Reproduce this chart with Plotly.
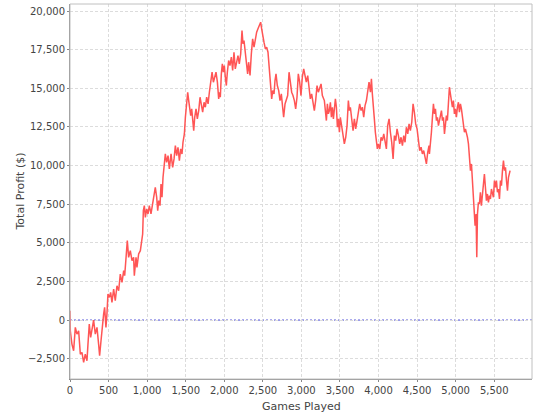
import plotly.graph_objects as go

games = [
    0, 4, 25, 47, 69, 90, 112, 134, 155, 177, 198, 220, 233, 250, 268, 285, 306, 328, 350, 371,
    384, 402, 415, 436, 449, 466, 479, 492, 510, 527, 544, 566, 587, 609, 631, 652, 674, 696, 709,
    730, 743, 760, 782, 804, 825, 834, 856, 868, 890, 912, 925, 942,
    951, 964, 977, 994, 1011, 1029, 1050, 1072, 1094, 1106, 1124, 1137, 1150, 1167, 1180, 1193,
    1206, 1219, 1236, 1253, 1271, 1288, 1310, 1331, 1349, 1366, 1383, 1400, 1418, 1435, 1452,
    1465, 1483, 1496, 1513, 1526, 1539, 1552, 1565, 1578, 1591, 1604, 1617, 1634, 1651, 1669,
    1686, 1703, 1720, 1738, 1755, 1772, 1790, 1807, 1824, 1842, 1859, 1876, 1893, 1911, 1928,
    1936, 1949, 1962, 1975, 1988, 2001, 2014, 2027, 2040, 2057, 2074, 2092, 2109, 2126, 2143,
    2161, 2178, 2195, 2213, 2230, 2243, 2256, 2273, 2290, 2303, 2316, 2334, 2351, 2368, 2386,
    2403, 2420, 2437, 2455, 2472, 2485, 2498, 2515, 2533, 2550, 2567, 2584, 2602, 2615, 2628,
    2645, 2658, 2671, 2688, 2706, 2723, 2740, 2757, 2770, 2788, 2805, 2822, 2840, 2857, 2874,
    2891, 2909, 2926, 2943, 2960, 2978, 2995, 3012, 3030, 3047, 3064, 3082, 3099, 3116, 3133,
    3151, 3168, 3185, 3203, 3220, 3237, 3255, 3272, 3289,
    3298, 3311, 3324, 3337, 3350, 3363, 3376, 3389, 3402, 3415, 3428, 3441, 3454, 3467, 3480,
    3493, 3505, 3523, 3540, 3557, 3575, 3592, 3609, 3622, 3635, 3653, 3670, 3687, 3704, 3722,
    3739, 3756, 3774, 3791, 3808, 3825, 3843, 3860, 3877, 3895, 3908, 3920, 3933, 3946, 3959,
    3972, 3985, 3998, 4016, 4033, 4050, 4068, 4085, 4102, 4119, 4137, 4154, 4171, 4189, 4206,
    4223, 4240, 4258, 4275, 4292, 4310, 4327, 4344, 4361, 4379, 4396, 4413, 4431, 4448, 4465,
    4482, 4500, 4517, 4534, 4552, 4569, 4586, 4603, 4621, 4638, 4655,
    4660, 4673, 4686, 4699, 4712, 4725, 4738, 4751, 4764, 4777, 4790, 4803, 4816, 4829, 4842,
    4855, 4868, 4880, 4893, 4906, 4919, 4932, 4945, 4958, 4971, 4984, 4997, 5010, 5023, 5036,
    5049, 5062, 5075, 5088, 5101, 5114, 5127, 5140, 5153, 5166, 5179, 5192, 5205, 5218, 5226,
    5239, 5252, 5265, 5274, 5283, 5295, 5308, 5321, 5334, 5347, 5360, 5373, 5386, 5399, 5412,
    5425, 5438, 5451, 5464, 5477, 5490, 5503, 5516, 5529, 5542, 5555, 5568, 5581, 5594, 5607,
    5620, 5633, 5646, 5659, 5672, 5685, 5698, 5706,
]

profit = [
    600, -693, -1556, -1988, -477, -909, -693, -2204, -2096, -2744, -2204, -2636, -1556, -261,
    -1125, -477, 0, -909, -477, -1556, -2312, -1340, -477, 387, 819, -477, 387, 1682, 1466, 1790,
    1142, 2006, 1250, 2222, 1898, 2978, 2438, 3194, 2870, 4813, 5137, 4057, 4489, 3841, 4057,
    2870, 4057, 3409, 4273, 4489, 4921, 5568,
    7080, 7403, 6648, 7188, 6864, 7403, 6864, 7511, 8375, 8591, 7943, 7080, 7727, 7403, 8807,
    7943, 9239, 10102, 10750, 10210, 10642, 9779, 10750, 9886, 10426, 11290, 10642, 11182,
    10318, 11074, 10750, 11506, 12045, 13125, 13881, 14744, 14204, 13665, 13233, 13665, 12909,
    12261, 13125, 13665, 13017, 13557, 14420, 13989, 13449, 14096, 13773, 14420, 13989, 14744,
    15392, 16040, 15392, 15824, 16040, 15392, 14312,
    14744, 14420, 15931, 16579, 16039, 16471, 15715, 15175, 16039, 16795, 16471, 17011, 16147,
    17334, 16255, 16795, 17118, 16579, 17226, 18738, 17874, 18090, 17226, 16579, 15931, 16687,
    15823, 17226, 18198, 17658, 18306, 18630, 18846, 19062, 19277, 18846, 18306, 17982, 17550,
    17658, 17334, 16363, 15067, 14312, 14852, 14636, 15499, 15931, 15175, 14852, 14204, 14636,
    13772, 13124, 13988, 14204, 14528, 16039, 15283, 14744, 14528, 14204, 13664, 14420, 15931,
    15391, 14528, 15715, 16255, 15715, 15391, 15823, 14959, 14312, 14636, 13880, 13556, 14204,
    15175, 14744, 15067, 15283, 14528, 14312,
    14204, 13557, 12909, 13988, 13341, 13557, 14096, 13125, 13773, 13017, 13557, 14312, 13773,
    12477, 13017, 12153, 13125, 12585, 12153, 11398, 11829, 12585, 14204, 13557, 13773, 12801,
    12261, 13017, 12369, 12909, 13341, 13989, 13557, 13773, 13125, 13881, 14204, 14852, 15392,
    14744, 15608, 14636, 13989, 13017, 12153, 11613, 11074, 11398, 11074, 11829, 11613, 12045,
    11506, 11074, 12585, 13017, 12153, 11506, 10426, 11937, 11613, 12369, 11937, 11398, 11829,
    11290, 11937, 11506, 12477, 12045, 12693, 12261, 12801, 13989, 13449, 12693, 12369, 11721,
    10966, 11182, 10750, 10966, 10426, 10102, 10858, 11290,
    10750, 11829, 12153, 13125, 13989, 13341, 13665, 12909, 13125, 12585, 13017, 13233, 13557,
    12909, 13125, 12045, 12585, 13233, 12909, 13989, 15068, 14636, 14204, 13773, 14204, 13341,
    13665, 13125, 13773, 14096, 13449, 13989, 13665, 13125, 12585, 12153, 12369, 11937, 11829,
    11398, 10318, 9670, 10102, 9022, 7943, 6971, 6108, 6863, 4057, 6863, 7619, 7511, 8267, 7403,
    8051, 9022, 9454, 8591, 7727, 8159, 7619, 8051, 7835, 8483, 8159, 7943, 9022, 8591, 9022,
    8267, 8483, 7835, 9022, 8699, 9670, 10318, 9670, 9886, 9022, 8375, 9238, 9670, 9670,
]

x_ticks = [0, 500, 1000, 1500, 2000, 2500, 3000, 3500, 4000, 4500, 5000, 5500]
y_ticks = [-2500, 0, 2500, 5000, 7500, 10000, 12500, 15000, 17500, 20000]
x_title = "Games Played"
y_title = "Total Profit ($)"

FONT = "DejaVu Sans"
W, H = 540, 420
ML, MR, MT, MB = 70, 8, 4, 41
PW, PH = W - ML - MR, H - MT - MB

fig = go.Figure()
fig.add_trace(go.Scatter(
    x=games, y=profit, mode="lines",
    line=dict(color="#FF5555", width=1.5),
    showlegend=False, hoverinfo="skip",
))

# zero baseline marker
fig.add_shape(type="line", xref="paper", yref="y", x0=0, x1=1, y0=0, y1=0,
              line=dict(color="#4848d8", width=1, dash="2px,2px"), layer="below")
# plot outline
fig.add_shape(type="rect", xref="paper", yref="paper", x0=0, x1=1, y0=0, y1=1,
              line=dict(color="#c0c0c0", width=1), layer="above")

axis_common = dict(
    showgrid=True, gridcolor="#dcdcdc", griddash="3px,2px", gridwidth=1,
    zeroline=False, showline=True, linecolor="#888888", linewidth=1,
    ticks="outside", ticklen=2, tickcolor="#888888",
    tickfont=dict(family=FONT, size=10, color="#444444"),
    tickformat=",", automargin=False,
)

fig.update_xaxes(range=[0, 5990], tickvals=x_ticks, **axis_common)
fig.update_yaxes(range=[-3815, 20453], tickvals=y_ticks, **axis_common)

# axis titles as annotations for exact placement
fig.add_annotation(text=x_title, xref="paper", yref="paper",
                   x=0.5, y=(H - MB - 406) / PH, xanchor="center", yanchor="middle",
                   showarrow=False, font=dict(family=FONT, size=11, color="#444444"))
fig.add_annotation(text=y_title, xref="paper", yref="paper",
                   x=(20 - ML) / PW, y=0.5, xanchor="center", yanchor="middle",
                   textangle=-90, showarrow=False,
                   font=dict(family=FONT, size=11, color="#444444"))

fig.update_layout(
    width=W, height=H,
    margin=dict(l=ML, r=MR, t=MT, b=MB, autoexpand=False),
    paper_bgcolor="white", plot_bgcolor="white",
    font=dict(family=FONT),
)

fig.write_html(
    "out.html",
    config={"displayModeBar": False, "staticPlot": True},
    post_script="document.body.style.margin='0';document.body.style.padding='0';",
)
